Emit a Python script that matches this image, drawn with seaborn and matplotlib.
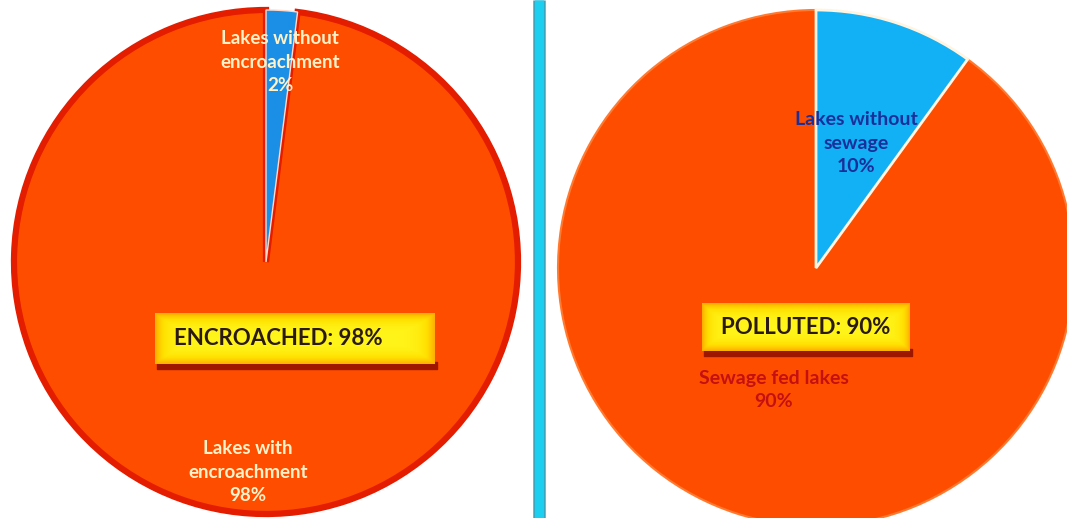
import numpy as np
import matplotlib
matplotlib.use("Agg")
import matplotlib.pyplot as plt
import seaborn as sns
from matplotlib.colors import LinearSegmentedColormap

sns.set_style("white")
plt.rcParams['font.family'] = ['Lato', 'DejaVu Sans']

# data
left_labels = ['Lakes without\nencroachment\n2%', 'Lakes with\nencroachment\n98%']
left_values = [2, 98]
left_title = 'ENCROACHED: 98%'

right_labels = ['Lakes without\nsewage\n10%', 'Sewage fed lakes\n90%']
right_values = [10, 90]
right_title = 'POLLUTED: 90%'

W, H = 1067, 518
orange = '#ff4d00'
rim_red = '#e41c00'
blue_left = '#1b8fe6'
blue_right = '#12b0f5'

fig = plt.figure(figsize=(W / 100, H / 100), dpi=100)
ax = fig.add_axes([0, 0, 1, 1])

def Y(y):
    # image rows -> axis coords
    return H - y

# left pie
wl, _ = ax.pie(left_values, colors=[blue_left, orange], startangle=90,
               counterclock=False, center=(266, Y(262)), radius=252,
               wedgeprops=dict(edgecolor=rim_red, linewidth=4.5))
wl[0].set_edgecolor('#ffd8c8')
wl[0].set_linewidth(1)
wl[0].set_zorder(3)

# right pie
wr, _ = ax.pie(right_values, colors=[blue_right, orange], startangle=90,
               counterclock=False, center=(816, Y(268)), radius=258,
               wedgeprops=dict(edgecolor='#fff4e0', linewidth=2))
wr[1].set_edgecolor('#ff7a30')
wr[1].set_linewidth(1.5)
wr[0].set_zorder(3)

# divider
ax.plot([539, 539], [0, H], color='#3aa6bf', lw=9, solid_capstyle='butt', zorder=1)
ax.plot([539, 539], [0, H], color='#1ccff0', lw=6.5, solid_capstyle='butt', zorder=1)

# gradient boxes
box_cmap = LinearSegmentedColormap.from_list('box', ['#fff51a', '#ffe000', '#ffb000'])

def gold_box(x0, x1, y0, y1, text, tx):
    ax.fill_between([x0 + 2, x1 + 2], Y(y1) - 5, Y(y1) + 2, color='#9e1500', zorder=4)
    n, m = 40, 200
    v = np.abs(np.linspace(-1, 1, n))[:, None]
    u = np.abs(np.linspace(-1, 1, m))[None, :]
    g = np.maximum(v ** 2.5, u ** 12)
    ax.imshow(g, cmap=box_cmap, extent=(x0, x1, Y(y1), Y(y0)), aspect='auto',
              interpolation='bilinear', zorder=5)
    ax.text(tx, Y((y0 + y1) / 2), text, fontsize=16, fontweight='bold',
            color='#2b1a12', ha='center', va='center', zorder=6)

gold_box(155, 435, 313, 364, left_title, 278)
gold_box(702, 910, 303, 351, right_title, 806)

# slice labels
ax.text(280, Y(62), left_labels[0], fontsize=13.5, fontweight='bold', color='#fff2c8',
        ha='center', va='center', linespacing=1.45, zorder=6)
ax.text(248, Y(472), left_labels[1], fontsize=13.5, fontweight='bold', color='#fff2c8',
        ha='center', va='center', linespacing=1.45, zorder=6)
ax.text(856, Y(143), right_labels[0], fontsize=14, fontweight='bold', color='#1a2f9a',
        ha='center', va='center', linespacing=1.45, zorder=6)
ax.text(774, Y(390), right_labels[1], fontsize=14, fontweight='bold', color='#c41010',
        ha='center', va='center', linespacing=1.45, zorder=6)

ax.set_xlim(0, W)
ax.set_ylim(0, H)
ax.set_aspect('auto')
ax.axis('off')

fig.savefig('out.png', dpi=100, facecolor='white')
